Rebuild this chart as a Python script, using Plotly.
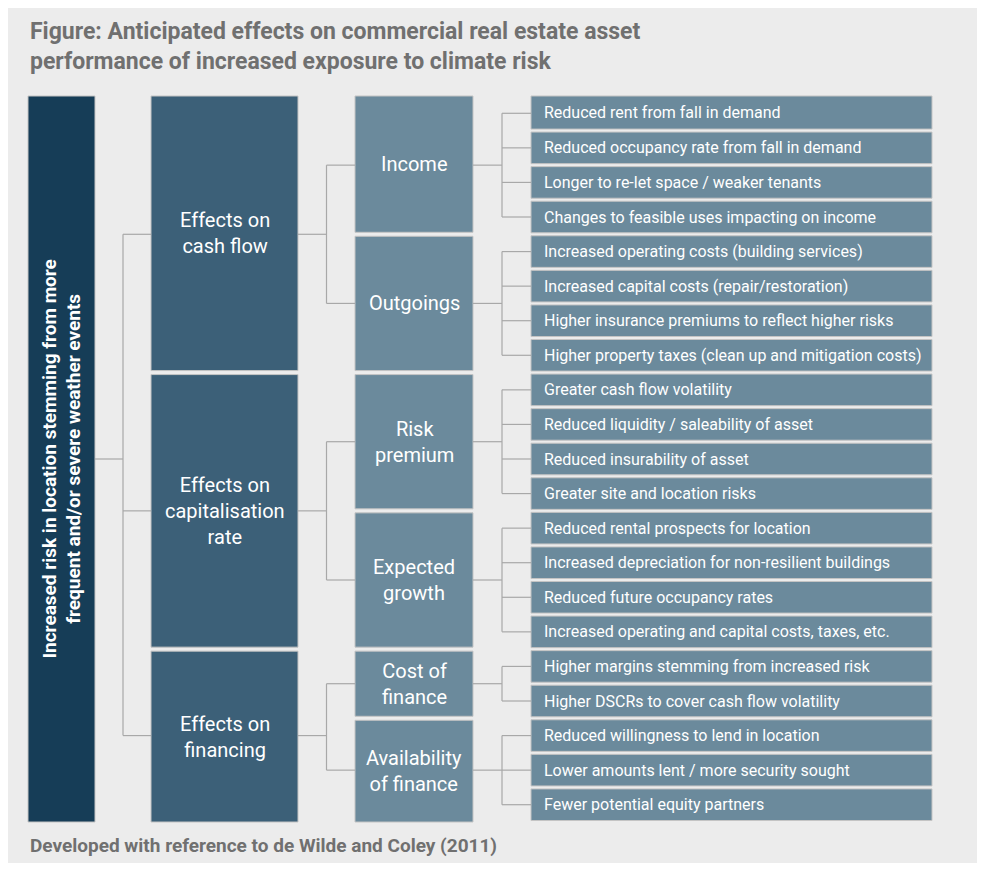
import plotly.graph_objects as go

TITLE = "Figure: Anticipated effects on commercial real estate asset<br>performance of increased exposure to climate risk"
FOOTER = "Developed with reference to de Wilde and Coley (2011)"
ROOT = "Increased risk in location stemming from more<br>frequent and/or severe weather events"

LEVEL1 = ["Effects on<br>cash flow", "Effects on<br>capitalisation<br>rate", "Effects on<br>financing"]
LEVEL1_CHILDREN = [2, 2, 2]
LEVEL2 = ["Income", "Outgoings", "Risk<br>premium", "Expected<br>growth", "Cost of<br>finance", "Availability<br>of finance"]
LEVEL2_CHILDREN = [4, 4, 4, 4, 2, 3]
LEVEL3 = [
    "Reduced rent from fall in demand",
    "Reduced occupancy rate from fall in demand",
    "Longer to re-let space / weaker tenants",
    "Changes to feasible uses impacting on income",
    "Increased operating costs (building services)",
    "Increased capital costs (repair/restoration)",
    "Higher insurance premiums to reflect higher risks",
    "Higher property taxes (clean up and mitigation costs)",
    "Greater cash flow volatility",
    "Reduced liquidity / saleability of asset",
    "Reduced insurability of asset",
    "Greater site and location risks",
    "Reduced rental prospects for location",
    "Increased depreciation for non-resilient buildings",
    "Reduced future occupancy rates",
    "Increased operating and capital costs, taxes, etc.",
    "Higher margins stemming from increased risk",
    "Higher DSCRs to cover cash flow volatility",
    "Reduced willingness to lend in location",
    "Lower amounts lent / more security sought",
    "Fewer potential equity partners",
]

BG = "#ececec"
C_ROOT, C_L1, C_L2, C_L3 = "#163d57", "#3c6078", "#6b8a9c", "#6b8a9c"
LINE = "#a8a8a8"
FONT = "Roboto"

TOP, BOTTOM = 96, 822
COLS = {"root": (28, 95), "l1": (151, 298), "l2": (355, 473), "l3": (531, 932)}
ROW_H = (BOTTOM - TOP) / len(LEVEL3)
GAP = 4
PAGE_MARGIN = 8  # browser body margin; shift axes so content lands on the reference pixels

fig = go.Figure()
shapes, annos = [], []


def box(x0, x1, y0, y1, color, text, size, bold=False, angle=0, align="center", xanchor="center"):
    shapes.append(dict(type="rect", x0=x0, x1=x1, y0=y0, y1=y1, fillcolor=color,
                       line=dict(color="#c4c4c4", width=1), layer="below"))
    tx = (x0 + x1) / 2 if xanchor == "center" else x0 + 11
    annos.append(dict(x=tx, y=(y0 + y1) / 2, text=f"<b>{text}</b>" if bold else text,
                      showarrow=False, textangle=angle, align=align, xanchor=xanchor,
                      font=dict(color="white", size=size, family=FONT)))


def line(x0, y0, x1, y1):
    shapes.append(dict(type="line", x0=x0, x1=x1, y0=y0, y1=y1, line=dict(color=LINE, width=1.2)))


def connect(px1, py, cx0, mids):
    xm = (px1 + cx0) / 2
    line(px1, py, xm, py)
    line(xm, min(mids), xm, max(mids))
    for m in mids:
        line(xm, m, cx0, m)


# level 3 rows
l3_mid = []
for i, t in enumerate(LEVEL3):
    y0 = TOP + i * ROW_H
    y1 = y0 + ROW_H
    x0, x1 = COLS["l3"]
    box(x0, x1, y0 + (0 if i == 0 else 1.5), y1 - 1.5, C_L3, t, 16, align="left", xanchor="left")
    l3_mid.append((y0 + y1) / 2)

# level 2
l2_span = []
start = 0
for t, n in zip(LEVEL2, LEVEL2_CHILDREN):
    y0 = TOP + start * ROW_H
    y1 = TOP + (start + n) * ROW_H
    x0, x1 = COLS["l2"]
    box(x0, x1, y0 + (0 if start == 0 else GAP / 2), y1 - (0 if start + n == len(LEVEL3) else GAP / 2), C_L2, t, 20)
    connect(x1, (y0 + y1) / 2, COLS["l3"][0], l3_mid[start:start + n])
    l2_span.append((y0, y1))
    start += n

# level 1
l1_mid = []
start = 0
for t, n in zip(LEVEL1, LEVEL1_CHILDREN):
    spans = l2_span[start:start + n]
    y0, y1 = spans[0][0], spans[-1][1]
    x0, x1 = COLS["l1"]
    box(x0, x1, y0 + (0 if start == 0 else GAP / 2), y1 - (0 if start + n == len(LEVEL2) else GAP / 2), C_L1, t, 20)
    connect(x1, (y0 + y1) / 2, COLS["l2"][0], [(a + b) / 2 for a, b in spans])
    l1_mid.append((y0 + y1) / 2)
    start += n

# root
x0, x1 = COLS["root"]
box(x0, x1, TOP, BOTTOM, C_ROOT, ROOT, 19, bold=True, angle=-90)
connect(x1, (TOP + BOTTOM) / 2, COLS["l1"][0], l1_mid)

annos.append(dict(x=28, y=46, text=f"<b>{TITLE}</b>", showarrow=False, xanchor="left", align="left",
                  font=dict(color="#707070", size=23, family=FONT)))
annos.append(dict(x=28, y=845, text=f"<b>{FOOTER}</b>", showarrow=False, xanchor="left",
                  font=dict(color="#707070", size=19, family=FONT)))

W, H = 985 - 2 * PAGE_MARGIN, 871 - 2 * PAGE_MARGIN
fig.update_layout(
    width=W, height=H, margin=dict(l=0, r=0, t=0, b=0),
    paper_bgcolor=BG, plot_bgcolor=BG, showlegend=False,
    xaxis=dict(range=[PAGE_MARGIN, PAGE_MARGIN + W], visible=False, fixedrange=True),
    yaxis=dict(range=[PAGE_MARGIN + H, PAGE_MARGIN], visible=False, fixedrange=True),
    shapes=shapes, annotations=annos,
)
fig.write_html("out.html")
